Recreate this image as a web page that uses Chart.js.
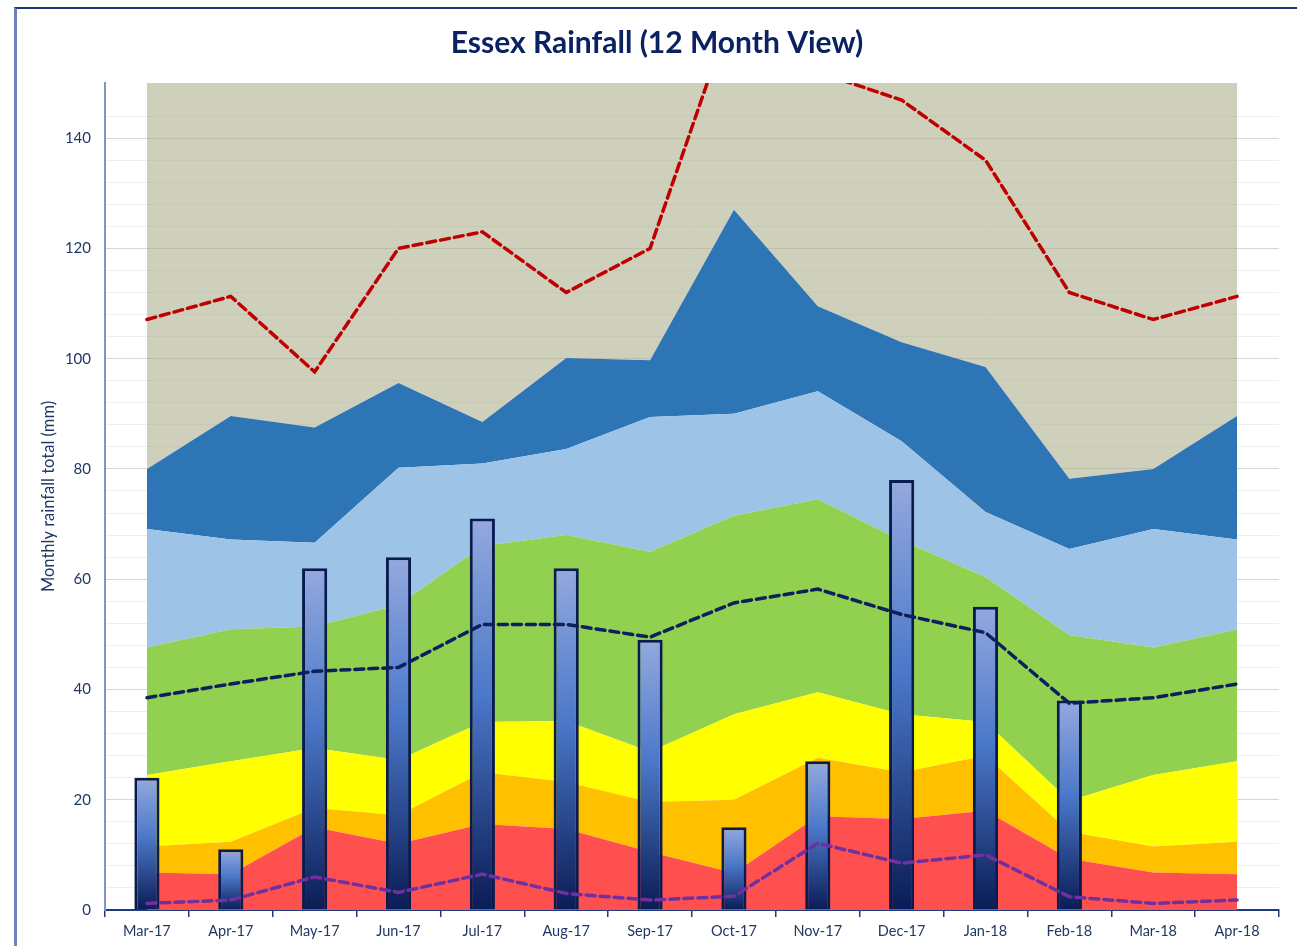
<!DOCTYPE html>
<html>
<head>
<meta charset="utf-8">
<title>Essex Rainfall</title>
<script src="https://cdn.jsdelivr.net/npm/chart.js@4.4.1/dist/chart.umd.min.js"></script>
<style>
  html, body { margin: 0; padding: 0; background: #fff; }
  #wrap { position: relative; width: 1297px; height: 946px; }
  #frame {
    position: absolute; left: 14px; top: 7px; right: -10px; bottom: -10px;
    border-top: 2px solid #1b3577; border-left: 3px solid #6d84ba;
    pointer-events: none;
  }
</style>
</head>
<body>
<div id="wrap">
  <canvas id="rainChart"></canvas>
  <div id="frame"></div>
</div>
<script>
const months = ['Mar-17','Apr-17','May-17','Jun-17','Jul-17','Aug-17','Sep-17','Oct-17','Nov-17','Dec-17','Jan-18','Feb-18','Mar-18','Apr-18'];

// monthly total for the last 12 months (mm)
const rainfall = [24, 11, 62, 64, 71, 62, 49, 15, 27, 78, 55, 38, null, null];

// long-term bands, upper edge of each band (mm)
const bandRed    = [6.8, 6.5, 15, 12, 15.6, 14.7, 10.5, 6.7, 17, 16.5, 18, 9.3, 6.8, 6.5];
const bandOrange = [11.5, 12.4, 18.5, 17.2, 25, 23.2, 19.6, 20, 27.6, 25, 28, 14.2, 11.5, 12.4];
const bandYellow = [24.5, 27, 29.4, 27.2, 34.1, 34.3, 28.7, 35.5, 39.5, 35.5, 34.1, 19.8, 24.5, 27];
const bandGreen  = [47.6, 50.9, 51.4, 55.3, 66, 68, 65, 71.5, 74.5, 67, 60.4, 49.9, 47.6, 50.9];
const bandLtBlue = [69.1, 67.2, 66.6, 80.2, 81, 83.6, 89.4, 90, 94.1, 85, 72.2, 65.5, 69.1, 67.2];
const bandBlue   = [80, 89.6, 87.5, 95.6, 88.5, 100.1, 99.7, 127, 109.5, 103, 98.5, 78.2, 80, 89.6];

// record high, long-term mean, record low (mm)
const highest = [107.1, 111.3, 97.6, 120, 123, 112, 120, 164, 152, 146.9, 136, 112, 107.1, 111.3];
const average = [38.5, 41, 43.3, 44, 51.8, 51.8, 49.5, 55.7, 58.2, 53.6, 50.3, 37.5, 38.5, 41];
const lowest  = [1.2, 1.8, 6, 3.2, 6.5, 3, 1.8, 2.5, 12.1, 8.5, 10, 2.4, 1.2, 1.8];

const yMax = 150;
const yTicks = [0, 20, 40, 60, 80, 100, 120, 140];

const navy = '#1f3864';
const FONT = 'Lato, "Open Sans", sans-serif';

function band(data, color, fill) {
  return {
    type: 'line', data, fill, order: 3,
    backgroundColor: color, borderWidth: 0, pointRadius: 0, tension: 0
  };
}

function dashed(data, color) {
  return {
    type: 'line', data, fill: false, order: 1,
    borderColor: color, borderWidth: 3.5, borderDash: [9, 5], borderCapStyle: 'round',
    pointRadius: 0, tension: 0
  };
}

// each bar shades from pale blue at the top to navy at the axis
function barGradient(ctx) {
  const chart = ctx.chart;
  if (!chart.chartArea || !ctx.parsed || ctx.parsed.y == null) return '#4472c4';
  const y = chart.scales.y;
  const top = y.getPixelForValue(ctx.parsed.y);
  const bottom = y.getPixelForValue(0);
  const g = chart.ctx.createLinearGradient(0, top, 0, bottom);
  g.addColorStop(0, '#94a9de');
  g.addColorStop(0.45, '#4b78c9');
  g.addColorStop(1, '#0a1c55');
  return g;
}

new Chart(document.getElementById('rainChart'), {
  type: 'bar',
  data: {
    labels: months,
    datasets: [
      band(bandRed, '#ff5050', 'origin'),
      band(bandOrange, '#ffc000', '-1'),
      band(bandYellow, '#ffff00', '-1'),
      band(bandGreen, '#92d050', '-1'),
      band(bandLtBlue, '#9dc3e6', '-1'),
      band(bandBlue, '#2e75b6', '-1'),
      band(bandBlue, 'rgba(170,174,140,0.58)', 'end'),
      {
        type: 'bar', data: rainfall, order: 2,
        backgroundColor: barGradient,
        borderColor: '#0a1b50', borderWidth: 3,
        barPercentage: 0.3, categoryPercentage: 1
      },
      dashed(highest, '#c00000'),
      dashed(average, '#0d1f5c'),
      dashed(lowest, '#7030a0')
    ]
  },
  options: {
    responsive: true,
    maintainAspectRatio: false,
    animation: false,
    layout: { padding: { left: 35, right: 18, top: 0, bottom: 0 } },
    plugins: {
      legend: { display: false },
      tooltip: { enabled: false },
      title: {
        display: true,
        text: 'Essex Rainfall (12 Month View)',
        color: '#0b2262',
        font: { family: FONT, size: 30, weight: 'bold' },
        padding: { top: 25, bottom: 22 }
      }
    },
    scales: {
      x: {
        offset: true,
        grid: {
          display: true, drawOnChartArea: false, drawTicks: true,
          tickLength: 7, color: '#1f3a80', lineWidth: 1.5, offset: true
        },
        border: { color: '#1f3a80', width: 2 },
        ticks: { color: navy, font: { family: FONT, size: 14.5 }, padding: 6, maxRotation: 0 },
        afterFit: s => { s.height = 36; }
      },
      y: {
        min: 0, max: yMax,
        ticks: {
          stepSize: 4, autoSkip: false, padding: 14,
          color: navy, font: { family: FONT, size: 15 },
          callback: v => yTicks.includes(v) ? v : ''
        },
        grid: {
          drawTicks: false,
          color: c => c.tick.value % 20 === 0 ? '#d6d6d6' : (c.tick.value % 4 === 0 ? '#eeeeee' : 'rgba(0,0,0,0)')
        },
        border: { color: '#7f95c4', width: 2 },
        title: {
          display: true, text: 'Monthly rainfall total (mm)',
          color: navy, font: { family: FONT, size: 16.5 },
          padding: { top: 4, bottom: 0 }
        },
        afterFit: s => { s.width = 70; }
      }
    }
  }
});
</script>
</body>
</html>
